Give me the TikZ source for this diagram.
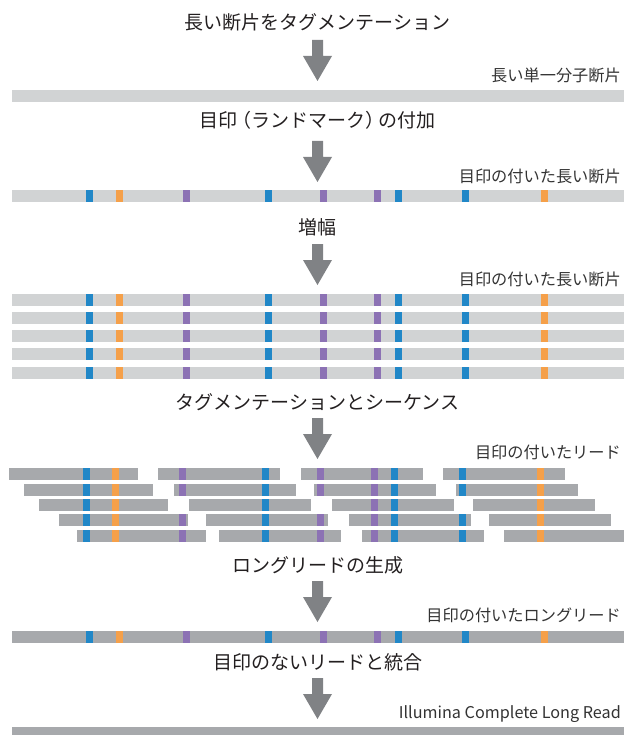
\documentclass[tikz,border=0pt]{standalone}
\usepackage{fontspec}
\setmainfont{Noto Sans CJK JP}
\definecolor{barlight}{HTML}{D1D3D4}
\definecolor{bardark}{HTML}{A7A9AC}
\definecolor{mblue}{HTML}{2187C7}
\definecolor{morange}{HTML}{F5A04A}
\definecolor{mpurple}{HTML}{8C72B4}
\definecolor{arrowgray}{HTML}{808285}
\definecolor{txt}{HTML}{231F20}
\definecolor{lbltxt}{HTML}{333333}
\newcommand\barmarks[1]{%
  \foreach \mx/\mc in {86/mblue,116/morange,183/mpurple,265/mblue,320/mpurple,374/mpurple,395/mblue,462/mblue,541/morange}
    {\fill[\mc] (\mx,#1) rectangle ++(7,12);}}
\newcommand\readbar[3]{%
  \fill[bardark] (#1,#3) rectangle (#2,#3+12);
  \begin{scope}
    \clip (#1,#3) rectangle (#2,#3+12);
    \foreach \mx/\mc in {83/mblue,112/morange,179/mpurple,262/mblue,317/mpurple,371/mpurple,391/mblue,459/mblue,537/morange}
      {\fill[\mc] (\mx,#3) rectangle ++(7,12);}
  \end{scope}}
\begin{document}
\begin{tikzpicture}[x=1pt,y=-1pt,
  title/.style={anchor=base, inner sep=0pt, font=\fontsize{19}{21}\selectfont, text=txt},
  lbl/.style={anchor=base east, inner sep=0pt, font=\fontsize{16.2}{18}\selectfont, text=lbltxt},
  blockarrow/.pic={\fill[arrowgray] (-5.5,0) -- (5.5,0) -- (5.5,16) -- (14.5,16) -- (0,41) -- (-14.5,16) -- (-5.5,16) -- cycle;}]
\useasboundingbox (0,0) rectangle (624,735);

% stage 1
\node[title] (t1) at (317.5,29.5) {長い断片をタグメンテーション};
\coordinate (a1) at (317.5,40);
\pic at (a1) {blockarrow};
\node[lbl] (l1) at (621,81.4) {長い単一分子断片};
\fill[barlight] (12,90) rectangle (624,102);

% stage 2
\node[title] (t2) at (317.5,128) {目印\kern-0.28em（ランドマーク）\kern-0.28em の付加};
\coordinate (a2) at (317.5,141);
\pic at (a2) {blockarrow};
\node[lbl] (l2) at (621,182.4) {目印の付いた長い断片};
\fill[barlight] (12,190) rectangle (624,202);
\barmarks{190}

% stage 3
\node[title] (t3) at (317.5,234) {増幅};
\coordinate (a3) at (317.5,244);
\pic at (a3) {blockarrow};
\node[lbl] (l3) at (621,285.4) {目印の付いた長い断片};
\foreach \by in {294,312,330,348,367} {
  \fill[barlight] (12,\by) rectangle (624,\by+12);
  \barmarks{\by}
}

% stage 4
\node[title] (t4) at (317.5,409) {タグメンテーションとシーケンス};
\coordinate (a4) at (317.5,418);
\pic at (a4) {blockarrow};
\node[lbl] (l4) at (621,458.9) {目印の付いたリード};
\foreach \a/\b in {9/138,158/280,301/423,443/565} {\readbar{\a}{\b}{468}}
\foreach \a/\b in {24/153,174/296,314/436,456/578} {\readbar{\a}{\b}{484}}
\foreach \a/\b in {39/168,189/311,332/454,473/595} {\readbar{\a}{\b}{499}}
\foreach \a/\b in {59/188,206/328,349/471,489/611} {\readbar{\a}{\b}{514}}
\foreach \a/\b in {77/206,219/341,362/484,504/624} {\readbar{\a}{\b}{530}}

% stage 5
\node[title] (t5) at (317.5,572) {ロングリードの生成};
\coordinate (a5) at (317.5,581);
\pic at (a5) {blockarrow};
\node[lbl] (l5) at (621,621.9) {目印の付いたロングリード};
\fill[bardark] (12,631) rectangle (624,643);
\barmarks{631}

% stage 6
\node[title] (t6) at (317.5,669) {目印のないリードと統合};
\coordinate (a6) at (317.5,678);
\pic at (a6) {blockarrow};
\node[lbl] (l6) at (621,718.9) {Illumina Complete Long Read};
\fill[bardark] (12,727) rectangle (624,735);
\end{tikzpicture}
\end{document}
